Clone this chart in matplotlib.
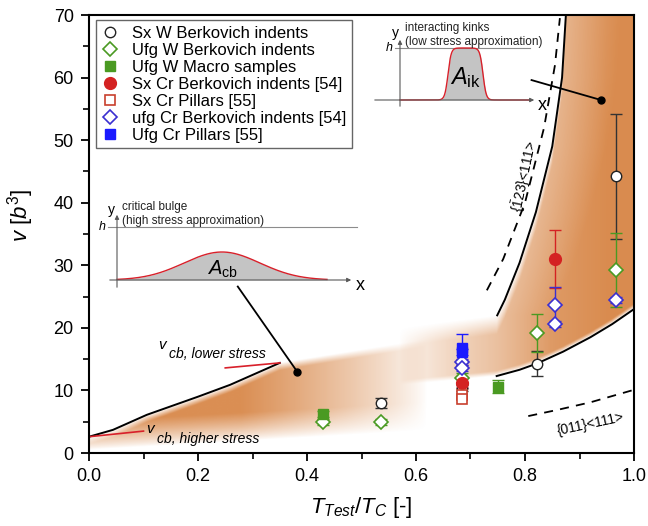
import numpy as np
import matplotlib
matplotlib.use("Agg")
import matplotlib.pyplot as plt

plt.rcParams["font.family"] = ["Liberation Sans", "DejaVu Sans"]
plt.rcParams["mathtext.fontset"] = "custom"
plt.rcParams["mathtext.rm"] = "Liberation Sans"
plt.rcParams["mathtext.it"] = "Liberation Sans:italic"

# ---- data ----
sxw_x = [0.535, 0.685, 0.822, 0.967]
sxw_v = [8.0, 10.4, 14.3, 44.2]
sxw_e = [0.8, 0.5, 2.0, 10.0]

ufgw_x = [0.43, 0.535, 0.685, 0.822, 0.967]
ufgw_v = [5.0, 5.0, 12.0, 19.2, 29.2]
ufgw_e = [0.5, 0.5, 0.8, 3.0, 5.9]

macro_x = [0.43, 0.75]
macro_v = [6.2, 10.6]
macro_e = [0.5, 1.0]

sxcr_x = [0.685, 0.855]
sxcr_v = [11.2, 31.0]
sxcr_e = [0.8, 4.6]

sxpil_x = [0.685, 0.685]
sxpil_v = [9.3, 8.7]

ufgcr_x = [0.685, 0.685, 0.855, 0.855, 0.967]
ufgcr_v = [14.6, 13.6, 23.6, 20.6, 24.4]
ufgcr_e = [0.5, 0.5, 3.0, 0.5, 0.5]

ufgpil_x = [0.685, 0.685]
ufgpil_v = [16.8, 16.2]
ufgpil_e = [2.2, 0.5]

# model curves
cb_x = [0.0, 0.044, 0.106, 0.2, 0.259, 0.35]
cb_v = [2.6, 3.7, 6.1, 9.0, 10.9, 14.4]
lo_x = [0.748, 0.79, 0.822, 0.87, 0.92, 0.96, 1.0]
lo_v = [12.3, 13.3, 14.3, 16.2, 18.5, 20.6, 23.0]
up_x = [0.749, 0.763, 0.79, 0.82, 0.85, 0.868, 0.875]
up_v = [22.0, 24.5, 30.4, 38.5, 49.0, 60.0, 70.0]
d123_x = [0.73, 0.76, 0.80, 0.835, 0.855, 0.864]
d123_v = [26.0, 31.0, 40.0, 52.0, 62.0, 69.5]
d011_x = [0.806, 0.86, 0.92, 1.0]
d011_v = [5.9, 6.9, 8.1, 10.1]

W, H = 648, 526
fig = plt.figure(figsize=(W / 100, H / 100), dpi=100)


def px_box(l, t, r, b):
    return [l / W, 1 - b / H, (r - l) / W, (b - t) / H]


ax = fig.add_axes(px_box(89, 15, 634, 453))
ax.set_xlim(0, 1)
ax.set_ylim(0, 70)

# ---- orange shading ----
gx = np.linspace(0, 1, 600)
gv = np.linspace(0, 70, 600)
X, V = np.meshgrid(gx, gv)

T1 = np.where(X <= 0.35, np.interp(X, cb_x, cb_v), 14.4 + (X - 0.35) * 14.0)
B1 = 0.5 + 5.0 * X
a1 = 0.8 * np.clip((0.62 - X) / 0.34, 0, 1) ** 0.8
alpha1 = a1 * np.clip((T1 - V) / 1.2, 0, 1) * np.clip((V - B1) / 4.5, 0, 1) ** 0.8

L = np.where(X < 0.748, 10.8 + (X - 0.57) * 8.4, np.interp(X, lo_x, lo_v))
U = np.where(X < 0.749, 20.0 + (X - 0.57) * 11.0, np.interp(X, up_x, up_v))
U = np.where(X > 0.875, 80, U)
a2 = np.where(X < 0.75, 0.62 * np.clip((X - 0.57) / 0.18, 0, 1) ** 0.7,
              0.62 + 0.2 * np.clip((X - 0.75) / 0.2, 0, 1))
f2 = 0.72 + 0.28 * np.clip((X - np.interp(V, up_v, up_x)) / 0.1, 0, 1)
alpha2 = a2 * f2 * np.clip((U - V) / 3.0, 0, 1) * np.clip((V - L) / 0.8, 0, 1)

alpha = np.clip(alpha1 + alpha2, 0, 0.85)
rgba = np.zeros(X.shape + (4,))
rgba[..., 0] = 0.82
rgba[..., 1] = 0.45
rgba[..., 2] = 0.16
rgba[..., 3] = alpha
ax.imshow(rgba, extent=[0, 1, 0, 70], origin="lower", aspect="auto",
          zorder=0, interpolation="bilinear")

# ---- curves ----
ax.plot(cb_x, cb_v, color="k", lw=1.4, zorder=2)
ax.plot(lo_x, lo_v, color="k", lw=1.4, zorder=2)
ax.plot(up_x, up_v, color="k", lw=1.4, zorder=2)
ax.plot(d123_x, d123_v, color="k", lw=1.3, ls=(0, (5, 4)), zorder=2)
ax.plot(d011_x, d011_v, color="k", lw=1.3, ls=(0, (5, 4)), zorder=2)
ax.plot([0.25, 0.35], [13.6, 14.4], color="#d8202a", lw=1.2, zorder=2)
ax.plot([0.0, 0.1], [2.6, 3.5], color="#d8202a", lw=1.2, zorder=2)

# pointer lines
ax.plot([0.273, 0.382], [26.6, 13.0], color="k", lw=1.3, zorder=2)
ax.plot([0.382], [13.0], "o", color="k", ms=5, zorder=2)
ax.plot([0.812, 0.94], [59.6, 56.4], color="k", lw=1.3, zorder=2)
ax.plot([0.94], [56.4], "o", color="k", ms=5, zorder=2)

# ---- data ----
green = "#4a9a22"
red = "#d42222"
redsq = "#c8402e"
blue = "#3a2fd0"
bluesq = "#1a1aff"

eb = dict(fmt="none", elinewidth=1, capsize=4, zorder=3)
ax.errorbar(sxw_x, sxw_v, yerr=sxw_e, ecolor="#333333", **eb)
ax.errorbar(ufgw_x, ufgw_v, yerr=ufgw_e, ecolor=green, **eb)
ax.errorbar(macro_x, macro_v, yerr=macro_e, ecolor=green, **eb)
ax.errorbar(sxcr_x, sxcr_v, yerr=sxcr_e, ecolor=red, **eb)
ax.errorbar(ufgcr_x, ufgcr_v, yerr=ufgcr_e, ecolor=blue, **eb)
ax.errorbar(ufgpil_x, ufgpil_v, yerr=ufgpil_e, ecolor=bluesq, **eb)

ax.plot(sxw_x, sxw_v, "o", ms=7.5, mfc="white", mec="#222222", mew=1, ls="none", zorder=4,
        label="Sx W Berkovich indents")
ax.plot(ufgw_x, ufgw_v, "D", ms=7, mfc="white", mec=green, mew=1.2, ls="none", zorder=4,
        label="Ufg W Berkovich indents")
ax.plot(macro_x, macro_v, "s", ms=7, mfc=green, mec=green, ls="none", zorder=4,
        label="Ufg W Macro samples")
ax.plot(sxcr_x, sxcr_v, "o", ms=8.5, mfc=red, mec=red, ls="none", zorder=4,
        label="Sx Cr Berkovich indents [54]")
ax.plot(sxpil_x, sxpil_v, "s", ms=7, mfc="white", mec=redsq, mew=1.2, ls="none", zorder=4,
        label="Sx Cr Pillars [55]")
ax.plot(ufgcr_x, ufgcr_v, "D", ms=7, mfc="white", mec=blue, mew=1.2, ls="none", zorder=4,
        label="ufg Cr Berkovich indents [54]")
ax.plot(ufgpil_x, ufgpil_v, "s", ms=7, mfc=bluesq, mec=bluesq, ls="none", zorder=4,
        label="Ufg Cr Pillars [55]")

leg = ax.legend(loc="upper left", bbox_to_anchor=(0.013, 0.989), fontsize=12,
                frameon=True, fancybox=False, edgecolor="#666666", framealpha=1,
                handlelength=1.0, handletextpad=0.8, labelspacing=0.12,
                borderpad=0.35, borderaxespad=0)
leg.get_frame().set_linewidth(1.0)

# ---- annotations ----
ax.text(0.134, 17.3, "v", fontsize=11, style="italic", ha="center", va="center")
ax.text(0.147, 15.9, "cb, lower stress", fontsize=10, style="italic", ha="left", va="center")
ax.text(0.112, 3.9, "v", fontsize=11, style="italic", ha="center", va="center")
ax.text(0.125, 2.3, "cb, higher stress", fontsize=10, style="italic", ha="left", va="center")
ax.text(0.92, 4.7, "{011}<111>", fontsize=10, rotation=12, ha="center", va="center")
ax.text(0.80, 44.2, r"{$\bar{1}$23}<111>", fontsize=10, rotation=78, ha="center", va="center")

# ---- axes styling ----
ax.set_xticks(np.arange(0, 1.01, 0.2))
ax.set_xticks(np.arange(0.1, 1.0, 0.2), minor=True)
ax.set_yticks(np.arange(0, 71, 10))
ax.set_yticks(np.arange(5, 70, 10), minor=True)
ax.set_xticklabels(["0.0", "0.2", "0.4", "0.6", "0.8", "1.0"])
ax.tick_params(which="major", direction="out", length=6, width=1.3, labelsize=13, pad=5)
ax.tick_params(which="minor", direction="out", length=4, width=1.2)
for s in ax.spines.values():
    s.set_linewidth(1.5)
ax.set_xlabel(r"$T_{Test}/T_{C}$ [-]", fontsize=16)
ax.set_ylabel(r"$v$ [$b^3$]", fontsize=16)
ax.xaxis.set_label_coords(0.5, -0.095)
ax.yaxis.set_label_coords(-0.098, 0.543)

# ---- inset: interacting kinks ----
ins1 = fig.add_axes(px_box(365, 16, 560, 112))
ins1.set_xlim(-35, 160)
ins1.set_ylim(-12, 84)
ins1.axis("off")
ins1.patch.set_alpha(0)
xs = np.linspace(0, 130, 400)
plateau = 52 / (1 + np.exp(-(xs - 48) / 1.6)) / (1 + np.exp((xs - 83) / 1.6))
ins1.fill_between(xs, 0, plateau, color="#c4c4c4", lw=0)
ins1.plot([-5, 130], [52, 52], color="0.55", lw=0.8)
ins1.plot(xs, plateau, color="#d8202a", lw=1.0)
ins1.annotate("", xy=(0, 63), xytext=(0, -9),
              arrowprops=dict(arrowstyle="-|>", lw=0.8, color="0.35", mutation_scale=6))
ins1.annotate("", xy=(137, 0), xytext=(-28, 0),
              arrowprops=dict(arrowstyle="-|>", lw=0.8, color="0.35", mutation_scale=6))
ins1.text(65, 22, r"$A_{\rm ik}$", fontsize=17, ha="center", va="center")
ins1.text(-11, 52, "h", fontsize=9, style="italic", ha="center", va="center")
ins1.text(-5, 67, "y", fontsize=10, ha="center", va="center")
ins1.text(142, -5, "x", fontsize=13, ha="center", va="center")
ins1.text(5, 65, "interacting kinks\n(low stress approximation)", fontsize=8.5,
          ha="left", va="center", linespacing=1.15, color="#222222")

# ---- inset: critical bulge ----
ins2 = fig.add_axes(px_box(92, 192, 372, 300))
ins2.set_xlim(-25, 255)
ins2.set_ylim(-20, 88)
ins2.axis("off")
ins2.patch.set_alpha(0)
xb = np.linspace(0, 210, 400)
bell = 28 * np.exp(-0.5 * ((xb - 105) / 38) ** 2)
ins2.fill_between(xb, 0, bell, color="#c4c4c4", lw=0)
ins2.plot([-9, 240], [53, 53], color="0.55", lw=0.8)
ins2.plot(xb, bell, color="#d8202a", lw=1.0)
ins2.annotate("", xy=(0, 68), xytext=(0, -10),
              arrowprops=dict(arrowstyle="-|>", lw=0.8, color="0.35", mutation_scale=6))
ins2.annotate("", xy=(237, 0), xytext=(-10, 0),
              arrowprops=dict(arrowstyle="-|>", lw=0.8, color="0.35", mutation_scale=6))
ins2.text(105, 11, r"$A_{\rm cb}$", fontsize=14.5, ha="center", va="center")
ins2.text(-15, 53, "h", fontsize=9, style="italic", ha="center", va="center")
ins2.text(-6, 70, "y", fontsize=10, ha="center", va="center")
ins2.text(243, -6, "x", fontsize=13, ha="center", va="center")
ins2.text(5, 66, "critical bulge\n(high stress approximation)", fontsize=8.5,
          ha="left", va="center", linespacing=1.15, color="#222222")

fig.savefig("out.png", dpi=100)
